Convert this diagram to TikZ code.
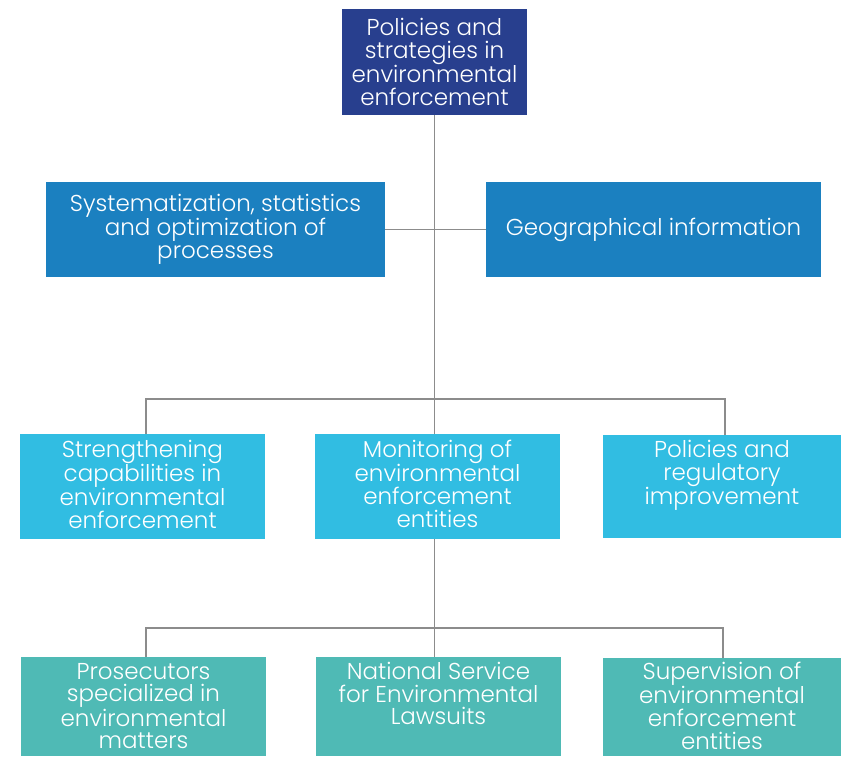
\documentclass[tikz,border=0pt]{standalone}
\usepackage{fontspec}
\setmainfont{Poppins Light}
\usetikzlibrary{positioning}
\definecolor{headblue}{RGB}{40,63,142}
\definecolor{unitblue}{RGB}{27,128,192}
\definecolor{areacyan}{RGB}{49,189,226}
\definecolor{areateal}{RGB}{79,186,181}
\definecolor{linkgray}{RGB}{140,140,140}

\begin{document}
\begin{tikzpicture}[x=1pt,y=-1pt,
  orgbox/.style={fill=#1, inner sep=0pt, text=white, align=center,
    font=\fontsize{23}{22.7}\selectfont},
  boxtext/.style={inner sep=0pt, text=white, align=center,
    font=\fontsize{23}{22.7}\selectfont},
  link/.style={draw=linkgray, line width=1.4pt}]
  \useasboundingbox (0,0) rectangle (841,756);
  % head and support units
  \node[orgbox=headblue, minimum width=185, minimum height=106] (head) at (434.5,62)
    {Policies and\\strategies in\\environmental\\enforcement};
  \node[orgbox=unitblue, minimum width=339, minimum height=95] (sys) at (215.5,229.5)
    {Systematization, statistics\\and optimization of\\processes};
  \node[orgbox=unitblue, minimum width=335, minimum height=95] (geo) at (653.5,229.5)
    {Geographical information};
  % areas
  \node[orgbox=areacyan, minimum width=245, minimum height=105] (str) at (142.5,486.5) {};
  \node[orgbox=areacyan, minimum width=245, minimum height=105] (mon) at (437.5,486.5) {};
  \node[orgbox=areacyan, minimum width=238, minimum height=103] (reg) at (722,486.5) {};
  \node[boxtext, below=6pt of str.north] {Strengthening\\capabilities in\\environmental\\enforcement};
  \node[boxtext, below=6pt of mon.north] {Monitoring of\\environmental\\enforcement\\entities};
  \node[boxtext, below=5pt of reg.north] {Policies and\\regulatory\\improvement};
  % entities
  \node[orgbox=areateal, minimum width=245, minimum height=99] (pros) at (143.5,706.5) {};
  \node[orgbox=areateal, minimum width=245, minimum height=99] (nat) at (438.5,706.5) {};
  \node[orgbox=areateal, minimum width=238, minimum height=98] (sup) at (722,707) {};
  \node[boxtext, below=6pt of pros.north] {Prosecutors\\specialized in\\environmental\\matters};
  \node[boxtext, below=5pt of nat.north] {National Service\\for Environmental\\Lawsuits};
  \node[boxtext, below=4pt of sup.north] {Supervision of\\environmental\\enforcement\\entities};
  % connectors
  \draw[link] (head.south) -- (head.south |- mon.north);
  \draw[link] (sys.east) -- (geo.west);
  \draw[link] ([xshift=3.5pt]str.north) -- ++(0,-35) -| ([xshift=3pt]reg.north);
  \draw[link] (head.south |- mon.south) -- (head.south |- nat.north);
  \draw[link] ([xshift=2.5pt]pros.north) -- ++(0,-29) -| ([xshift=1pt]sup.north);
\end{tikzpicture}
\end{document}
